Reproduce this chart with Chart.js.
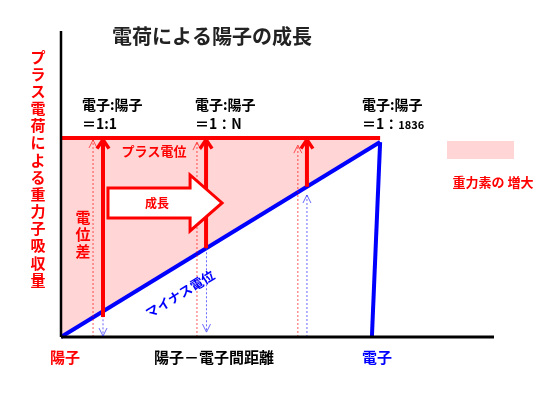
<!DOCTYPE html>
<html>
<head>
<meta charset="utf-8">
<script src="https://cdn.jsdelivr.net/npm/chart.js@4.4.1/dist/chart.umd.min.js"></script>
<style>
  html, body { margin: 0; padding: 0; background: #fff; }
  #wrap { width: 551px; height: 401px; }
</style>
</head>
<body>
<div id="wrap"><canvas id="chart" width="551" height="401"></canvas></div>
<script>
// Potential lines (x: distance proton -> electron, y: potential)
const plusPotential = [{ x: 0, y: 65 }, { x: 73.7, y: 65 }];
const minusPotential = [{ x: 0, y: 0 }, { x: 73.7, y: 63.7 }];
const electronEdge = [{ x: 73.7, y: 63.7 }, { x: 71.8, y: 0 }];

// Potential difference arrows (electron:proton ratio stages)
const ratioX = [9.7, 33.5, 56.8];
const ratioBase = [6.5, 29.0, 49.1];
const ratioTop = [64.5, 64.5, 64.5];
const ratioLabels = [['電子:陽子', '＝1:1'], ['電子:陽子', '＝1：N'], ['電子:陽子', '＝1：1836']];

// thin guide arrows
const dashedRedX = [7.4, 31.4, 54.7];
const dashedRedTop = [64.4, 63.7, 62.7];
const dashedBlueX = [9.7, 33.6, 56.8];
const dashedBlueFrom = [8.4, 29.0, 0];
const dashedBlueTo = [0.3, 1.6, 46.4];

// growth arrow (x from / to, y centre)
const growthFrom = 10.85;
const growthTo = 37.2;
const growthY = 43.8;

const axisLabels = ['陽子', '陽子－電子間距離', '電子'];
const RED = '#ff0000';
const BLUE = '#0000ff';
const PINK = '#ffd5d5';
const FONT = '"Noto Sans CJK JP", "Noto Sans", sans-serif';

const datasets = [];

// axes
datasets.push({ data: [{ x: 0, y: 0 }, { x: 0, y: 100 }], borderColor: '#000', borderWidth: 2.5 });
datasets.push({ data: [{ x: 0, y: 0 }, { x: 100, y: 0 }], borderColor: '#000', borderWidth: 3 });

// thick red arrows
ratioX.forEach((x, i) => {
    datasets.push({
        data: [{ x: x, y: ratioBase[i] }, { x: x, y: ratioTop[i] }],
        borderColor: RED, borderWidth: 4, head: [9, 6], headWidth: 3.5
    });
});

// dashed red guides
dashedRedX.forEach((x, i) => {
    datasets.push({
        data: [{ x: x, y: 0 }, { x: x, y: dashedRedTop[i] }],
        borderColor: 'rgba(255,0,0,0.65)', borderWidth: 1, borderDash: [2, 2], head: [8, 4], headWidth: 1
    });
});

// dashed blue guides
dashedBlueX.forEach((x, i) => {
    datasets.push({
        data: [{ x: x, y: dashedBlueFrom[i] }, { x: x, y: dashedBlueTo[i] }],
        borderColor: 'rgba(40,40,255,0.7)', borderWidth: 1, borderDash: [2, 2], head: [8, 4], headWidth: 1
    });
});

datasets.push({ data: plusPotential, borderColor: RED, borderWidth: 4 });
datasets.push({ data: minusPotential, borderColor: BLUE, borderWidth: 4 });
datasets.push({ data: electronEdge, borderColor: BLUE, borderWidth: 4 });

// pink area between minus potential and plus potential level
datasets.push({
    data: minusPotential, borderColor: 'rgba(0,0,0,0)', borderWidth: 0,
    fill: { value: plusPotential[0].y }, backgroundColor: PINK
});

function text(ctx, s, x, y, size, color, align) {
    ctx.font = 'bold ' + size + 'px ' + FONT;
    ctx.fillStyle = color;
    ctx.textAlign = align || 'center';
    ctx.textBaseline = 'middle';
    ctx.fillText(s, x, y);
}

const arrowHeads = {
    id: 'arrowHeads',
    afterDatasetsDraw(chart) {
        const ctx = chart.ctx;
        chart.data.datasets.forEach((ds, i) => {
            if (!ds.head) return;
            const pts = chart.getDatasetMeta(i).data;
            const a = pts[pts.length - 2], b = pts[pts.length - 1];
            const ang = Math.atan2(b.y - a.y, b.x - a.x);
            const [len, half] = ds.head;
            const c = Math.cos(ang), s = Math.sin(ang);
            ctx.save();
            ctx.strokeStyle = ds.borderColor;
            ctx.lineWidth = ds.headWidth;
            ctx.beginPath();
            ctx.moveTo(b.x - len * c - half * s, b.y - len * s + half * c);
            ctx.lineTo(b.x, b.y);
            ctx.lineTo(b.x - len * c + half * s, b.y - len * s - half * c);
            ctx.stroke();
            ctx.restore();
        });
    }
};

const decorations = {
    id: 'decorations',
    afterDraw(chart) {
        const ctx = chart.ctx;
        const xs = chart.scales.x, ys = chart.scales.y;

        // growth arrow
        const x0 = xs.getPixelForValue(growthFrom), x1 = xs.getPixelForValue(growthTo);
        const yc = ys.getPixelForValue(growthY);
        const body = 15, head = 28, headLen = 32;
        ctx.save();
        ctx.beginPath();
        ctx.moveTo(x0, yc - body);
        ctx.lineTo(x1 - headLen, yc - body);
        ctx.lineTo(x1 - headLen, yc - head);
        ctx.lineTo(x1, yc);
        ctx.lineTo(x1 - headLen, yc + head);
        ctx.lineTo(x1 - headLen, yc + body);
        ctx.lineTo(x0, yc + body);
        ctx.closePath();
        ctx.fillStyle = '#fff';
        ctx.fill();
        ctx.strokeStyle = RED;
        ctx.lineWidth = 3;
        ctx.stroke();
        text(ctx, '成長', (x0 + x1 - headLen) / 2 + 8, yc, 12, RED);

        // title
        text(ctx, '電荷による陽子の成長', 212, 36, 20, '#222');

        // y axis caption (vertical)
        const yCap = 'プラス電荷による重力子吸収量';
        [...yCap].forEach((ch, i) => text(ctx, ch, 38, 57 + i * 17.15, 15, RED));

        // potential difference caption
        ['電', '位', '差'].forEach((ch, i) => text(ctx, ch, 83, 217 + i * 17, 15, RED));

        text(ctx, 'プラス電位', 154, 151, 13, RED);

        // ratio labels
        const lefts = [82, 195, 362];
        ratioLabels.forEach((lab, i) => {
            text(ctx, lab[0], lefts[i], 105, 14, '#000', 'left');
            if (lab[1].endsWith('1836')) {
                text(ctx, '＝1：', lefts[i], 124, 14, '#000', 'left');
                const w = ctx.measureText('＝1：').width;
                text(ctx, '1836', lefts[i] + w, 125, 11, '#000', 'left');
            } else {
                text(ctx, lab[1], lefts[i], 124, 14, '#000', 'left');
            }
        });

        // minus potential caption along the blue line
        const p0 = chart.getDatasetMeta(datasets.length - 3).data;
        const ang = Math.atan2(p0[1].y - p0[0].y, p0[1].x - p0[0].x);
        ctx.save();
        ctx.translate(180, 294);
        ctx.rotate(ang);
        text(ctx, 'マイナス電位', 0, 0, 13, BLUE);
        ctx.restore();

        // legend
        ctx.fillStyle = PINK;
        ctx.fillRect(447, 141, 67, 18);
        text(ctx, '重力素の 増大', 493, 182, 13, RED);

        // bottom labels
        text(ctx, axisLabels[0], 65, 357, 15, RED);
        text(ctx, axisLabels[1], 214, 357, 15, '#000');
        text(ctx, axisLabels[2], 377, 357, 15, BLUE);
        ctx.restore();
    }
};

new Chart(document.getElementById('chart'), {
    type: 'line',
    data: {
        datasets: datasets.map(d => Object.assign({ pointRadius: 0, clip: false, tension: 0, fill: false }, d))
    },
    options: {
        responsive: false,
        animation: false,
        layout: { padding: { left: 61, right: 57, top: 31, bottom: 64 } },
        plugins: { legend: { display: false }, tooltip: { enabled: false } },
        scales: {
            x: { type: 'linear', min: 0, max: 100, display: false },
            y: { type: 'linear', min: 0, max: 100, display: false }
        }
    },
    plugins: [arrowHeads, decorations]
});
</script>
</body>
</html>
